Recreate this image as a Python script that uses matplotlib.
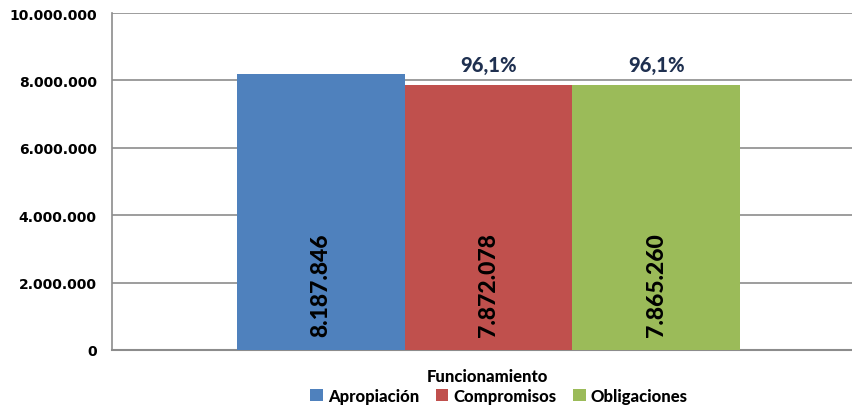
import numpy as np
import matplotlib.pyplot as plt

# data
series = ['Apropiación', 'Compromisos', 'Obligaciones']
values = [8187846, 7872078, 7865260]
value_labels = ['8.187.846', '7.872.078', '7.865.260']
pct_labels = ['', '96,1%', '96,1%']
colors = ['#4F81BD', '#C0504D', '#9BBB59']
category = 'Funcionamiento'
yticks = [0, 2000000, 4000000, 6000000, 8000000, 10000000]
ytick_labels = ['0', '2.000.000', '4.000.000', '6.000.000', '8.000.000', '10.000.000']

fig = plt.figure(figsize=(8.53, 4.06), dpi=100)
ax = fig.add_axes([0.1313, 0.1355, 0.8687, 0.83])

pos = np.arange(len(values)) - 1
bars = ax.bar(pos, values, width=1.0, color=colors, label=series, zorder=3)

ax.set_ylim(0, 10000000)
ax.set_xlim(-2.244, 2.173)
ax.set_yticks(yticks)
ax.set_yticklabels(ytick_labels, fontsize=10, fontweight='bold', family='DejaVu Sans')
ax.set_xticks([])
ax.tick_params(axis='y', length=0, pad=11)
ax.grid(axis='y', color='#8C8C8C', linewidth=1.2, zorder=0)

for s in ['top', 'right']:
    ax.spines[s].set_visible(False)
ax.spines['left'].set_color('#8C8C8C')
ax.spines['bottom'].set_color('#8C8C8C')
ax.spines['left'].set_linewidth(1.2)
ax.spines['bottom'].set_linewidth(1.5)

# value labels inside bars, rotated
for p, lab in zip(pos, value_labels):
    ax.annotate(lab, (p, 0), xytext=(0, 10), textcoords='offset points',
                rotation=90, ha='center', va='bottom', fontsize=16.5,
                fontweight='black', family='Lato', color='black', zorder=4)

# percentages above bars
for p, v, lab in zip(pos, values, pct_labels):
    if lab:
        ax.annotate(lab, (p, v), xytext=(0, 8), textcoords='offset points',
                    ha='center', va='bottom', fontsize=14.5, fontweight='black',
                    family='Lato', color='#1F3050')

fig.text(0.571, 0.072, category, ha='center', va='center', fontsize=12,
         fontweight='black', family='Lato')

leg = fig.legend(handles=bars, labels=series, loc='center', ncol=3,
                 bbox_to_anchor=(0.585, 0.023), frameon=False,
                 handlelength=0.75, handleheight=0.75, handletextpad=0.3,
                 columnspacing=1.0, prop={'family': 'Lato', 'weight': 'black', 'size': 12})

plt.savefig('out.png', dpi=100)
